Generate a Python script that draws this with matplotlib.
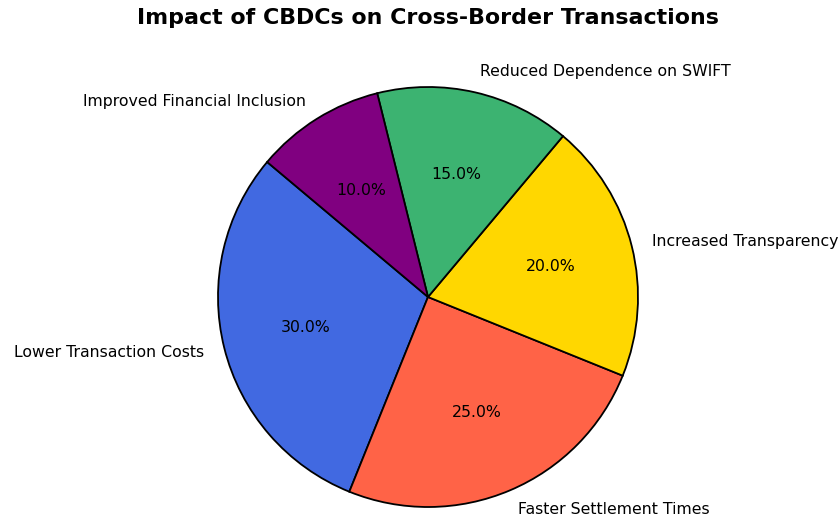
import matplotlib.pyplot as plt

labels = ['Lower Transaction Costs', 'Faster Settlement Times', 'Increased Transparency',
          'Reduced Dependence on SWIFT', 'Improved Financial Inclusion']
shares = [30, 25, 20, 15, 10]
colors = ['royalblue', 'tomato', 'gold', 'mediumseagreen', 'purple']

fig = plt.figure(figsize=(8.39, 5.18), dpi=100)
ax = fig.add_axes([0, 0, 1, 1])

ax.pie(shares, labels=labels, colors=colors, autopct='%1.1f%%', startangle=140,
       wedgeprops={'edgecolor': 'black', 'linewidth': 1.3},
       textprops={'fontsize': 11.3})

# radius 1 -> ~210 px, centre at (428, 297) px from top-left
r = 210.0
ax.set_xlim(-428 / r, (839 - 428) / r)
ax.set_ylim(-(518 - 297) / r, 297 / r)
ax.set_aspect('equal')
ax.axis('off')

fig.text(0.51, 0.965, 'Impact of CBDCs on Cross-Border Transactions',
         ha='center', va='center', fontsize=15.9, fontweight='bold')

fig.savefig('out.png', dpi=100)
